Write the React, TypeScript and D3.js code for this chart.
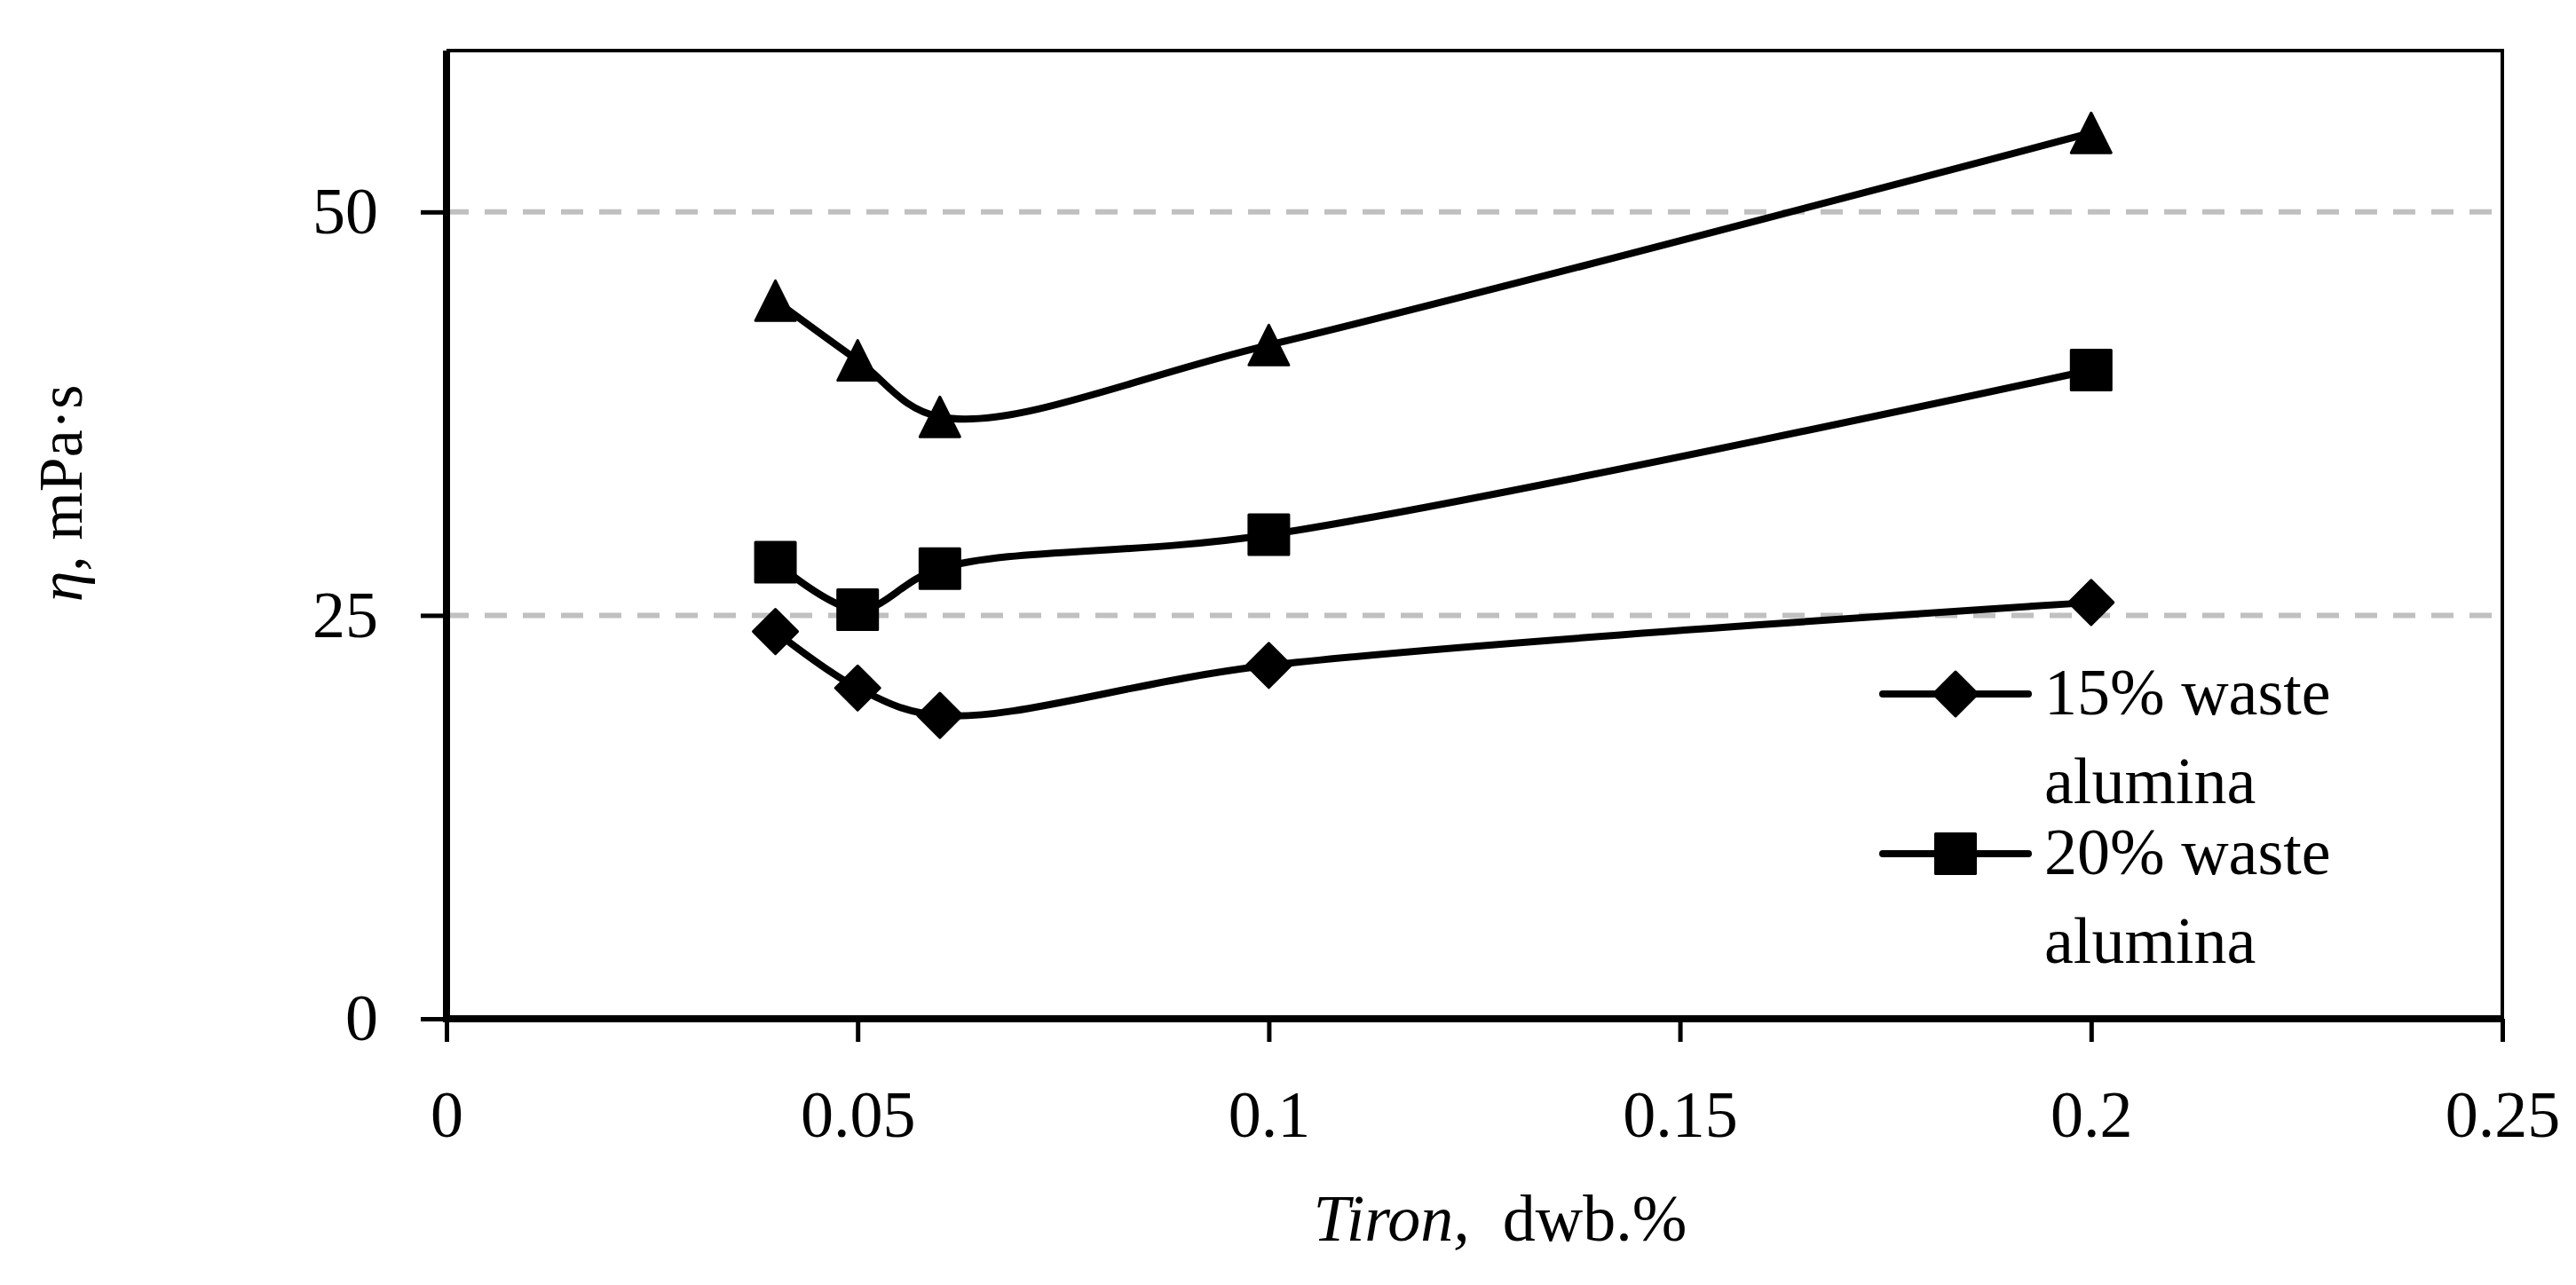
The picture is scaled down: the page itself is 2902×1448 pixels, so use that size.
import React, { useEffect, useRef } from 'react';
import * as d3 from 'd3';

// Tiron dosage, dwb.%
const tiron = [0.04, 0.05, 0.06, 0.1, 0.2];

// viscosity, mPa·s
const waste15 = [24.0, 20.5, 18.8, 21.9, 25.8];
const waste20 = [28.3, 25.35, 27.9, 30.0, 40.2];
const waste25 = [44.5, 40.8, 37.3, 41.75, 54.9];

const xTicks = [0, 0.05, 0.1, 0.15, 0.2, 0.25];
const yTicks = [0, 25, 50];
const gridValues = [25, 50];

const legendLabels = [
  ['15% waste', 'alumina'],
  ['20% waste', 'alumina'],
];

const W = 2902;
const H = 1448;
const FONT = '"Palatino Linotype", "Book Antiqua", Palatino, "Liberation Serif", "DejaVu Serif", serif';
const FS = 74;

export default function App() {
  const ref = useRef<SVGSVGElement>(null);

  useEffect(() => {
    document.body.style.margin = '0';
    if (!ref.current) return;
    const svg = d3.select(ref.current);
    svg.selectAll('*').remove();

    const left = 503, right = 2819, top = 57, bottom = 1148;

    const x = d3.scaleLinear().domain([0, 0.25]).range([left, right]);
    const y = d3.scaleLinear().domain([0, 60]).range([bottom, top]);

    // gridlines
    svg.append('g')
      .selectAll('line')
      .data(gridValues)
      .enter()
      .append('line')
      .attr('x1', left)
      .attr('x2', right)
      .attr('y1', d => y(d))
      .attr('y2', d => y(d))
      .attr('stroke', '#c0c0c0')
      .attr('stroke-width', 6)
      .attr('stroke-dasharray', '25 18');

    // frame (top and right)
    svg.append('path')
      .attr('d', `M${left},${top}H${right}V${bottom}`)
      .attr('fill', 'none')
      .attr('stroke', '#000')
      .attr('stroke-width', 4);

    // x axis
    const xAxis = svg.append('g')
      .attr('transform', `translate(0,${bottom})`)
      .call(d3.axisBottom(x).tickValues(xTicks).tickSize(26).tickPadding(54).tickFormat(d => String(+d)));
    xAxis.select('.domain').remove();
    xAxis.selectAll('line').attr('stroke', '#000').attr('stroke-width', 5);
    xAxis.selectAll('text').attr('font-family', FONT).attr('font-size', FS).attr('fill', '#000');

    // y axis
    const yAxis = svg.append('g')
      .attr('transform', `translate(${left},0)`)
      .call(d3.axisLeft(y).tickValues(yTicks).tickSize(29).tickPadding(48));
    yAxis.select('.domain').remove();
    yAxis.selectAll('line').attr('stroke', '#000').attr('stroke-width', 5);
    yAxis.selectAll('text').attr('font-family', FONT).attr('font-size', FS).attr('fill', '#000');

    // main axis lines
    svg.append('path')
      .attr('d', `M${left},${top}V${bottom}H${right}`)
      .attr('fill', 'none')
      .attr('stroke', '#000')
      .attr('stroke-width', 8);

    const line = d3.line<number>()
      .x((_, i) => x(tiron[i]))
      .y(d => y(d))
      .curve(d3.curveCatmullRom.alpha(0.5));

    const seriesList = [
      { values: waste15, shape: 'diamond' },
      { values: waste20, shape: 'square' },
      { values: waste25, shape: 'triangle' },
    ];

    const markerPath = (shape: string) => {
      if (shape === 'square') return d3.symbol().type(d3.symbolSquare).size(2025)()!;
      if (shape === 'triangle') return 'M0,-22.5L22.5,22.5L-22.5,22.5Z';
      return d3.symbol().type(d3.symbolSquare).size(1250)()!;
    };

    seriesList.forEach(s => {
      svg.append('path')
        .datum(s.values)
        .attr('d', line)
        .attr('fill', 'none')
        .attr('stroke', '#000')
        .attr('stroke-width', 8);

      svg.append('g')
        .selectAll('path')
        .data(s.values)
        .enter()
        .append('path')
        .attr('d', markerPath(s.shape))
        .attr('transform', (d, i) => `translate(${x(tiron[i])},${y(d)})${s.shape === 'diamond' ? ' rotate(45)' : ''}`)
        .attr('fill', '#000')
        .attr('stroke', '#000')
        .attr('stroke-width', 3)
        .attr('stroke-linejoin', 'round');
    });

    // legend
    const legend = svg.append('g').attr('transform', 'translate(2121,782)');
    legendLabels.forEach((lbl, i) => {
      const g = legend.append('g').attr('transform', `translate(0,${i * 180})`);
      g.append('line')
        .attr('x1', 0).attr('x2', 164)
        .attr('y1', 0).attr('y2', 0)
        .attr('stroke', '#000')
        .attr('stroke-width', 8)
        .attr('stroke-linecap', 'round');
      g.append('path')
        .attr('d', markerPath(i === 0 ? 'diamond' : 'square'))
        .attr('transform', `translate(82,0)${i === 0 ? ' rotate(45)' : ''}`)
        .attr('fill', '#000')
        .attr('stroke', '#000')
        .attr('stroke-width', 3)
        .attr('stroke-linejoin', 'round');
      const t = g.append('text')
        .attr('x', 182)
        .attr('y', 23)
        .attr('font-family', FONT)
        .attr('font-size', FS)
        .attr('fill', '#000');
      lbl.forEach((part, j) => {
        t.append('tspan').attr('x', 182).attr('dy', j === 0 ? 0 : 100).text(part);
      });
    });

    // axis titles
    const xt = svg.append('text')
      .attr('x', 1690)
      .attr('y', 1398)
      .attr('text-anchor', 'middle')
      .attr('font-family', FONT)
      .attr('font-size', FS)
      .attr('fill', '#000')
      .style('white-space', 'pre');
    xt.append('tspan').attr('font-style', 'italic').text('Tiron,');
    xt.append('tspan').text('  dwb.%');

    const yt = svg.append('text')
      .attr('transform', 'translate(92,556) rotate(-90)')
      .attr('text-anchor', 'middle')
      .attr('font-family', FONT)
      .attr('font-size', 70)
      .attr('fill', '#000');
    yt.append('tspan').attr('font-style', 'italic').text('η');
    yt.append('tspan').text(', mPa·s');
  }, []);

  return <svg ref={ref} width={W} height={H} style={{ display: 'block', background: '#fff' }} />;
}
